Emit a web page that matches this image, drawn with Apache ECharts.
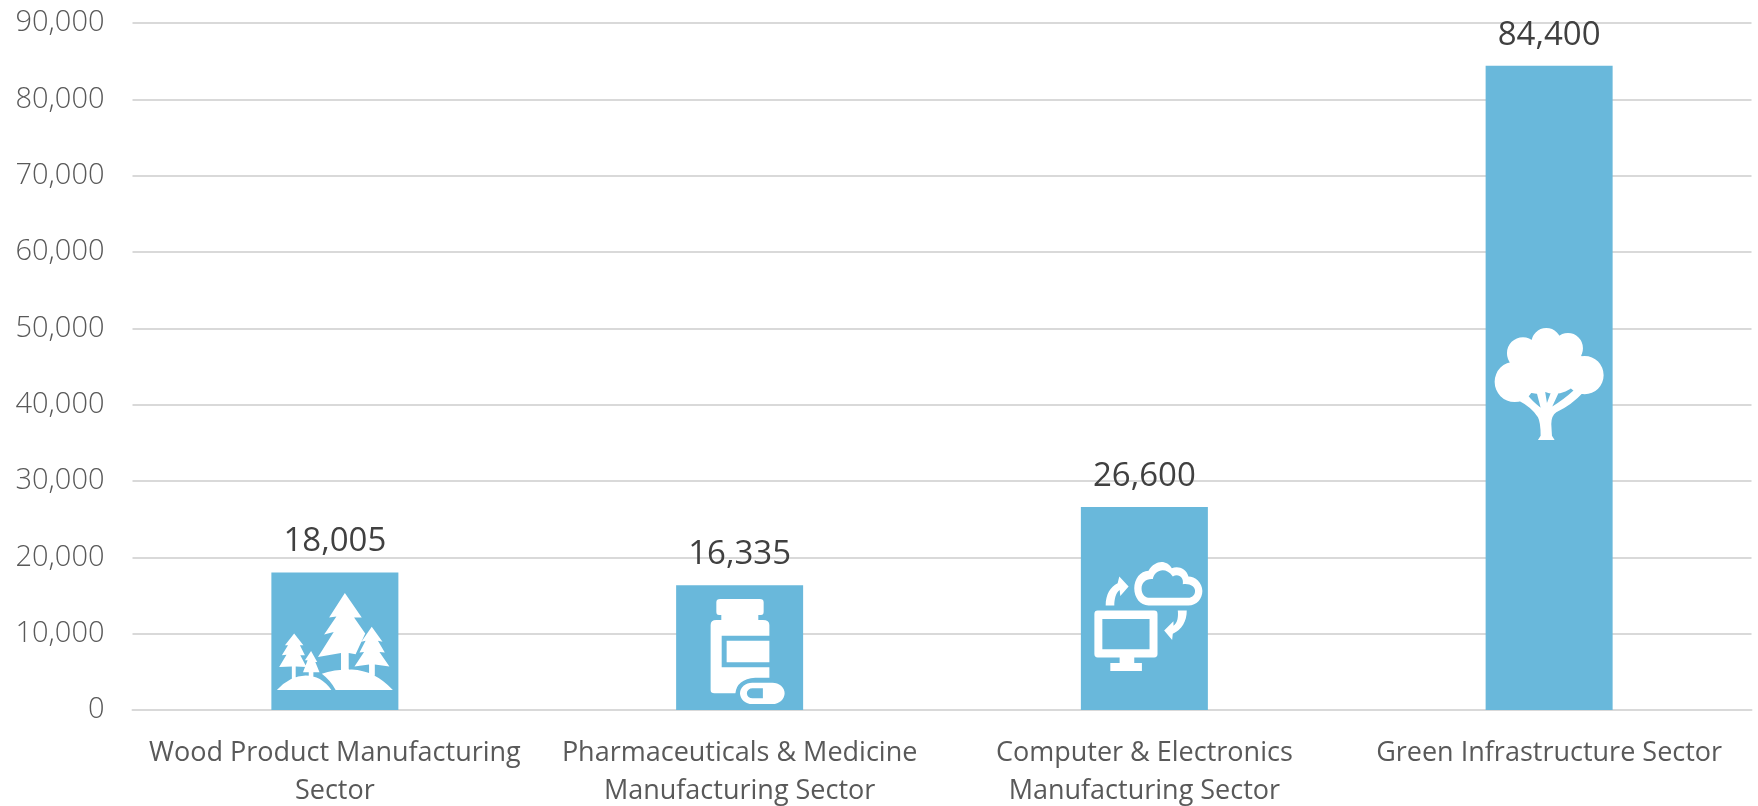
<!DOCTYPE html>
<html><head><meta charset="utf-8">
<style>html,body{margin:0;padding:0;background:#fff}#c{width:1758px;height:806px}</style>
<script src="https://cdn.jsdelivr.net/npm/echarts@6/dist/echarts.min.js"></script>
</head><body><div id="c"></div>
<script>
const categories = ['Wood Product Manufacturing\nSector','Pharmaceuticals & Medicine\nManufacturing Sector','Computer & Electronics\nManufacturing Sector','Green Infrastructure Sector'];
const values = [18005,16335,26600,84400];
const tickMax = 90000;
const tickStep = 10000;
const iconLevels = [8974,7660,12250,42700];
const iconSizes = [[116,97],[74,105],[108,109],[109,112]];
const iconOffsets = [[0,0],[8,0],[4,0],[0,0]];
function circle(cx,cy,r){return `M${cx-r} ${cy}A${r} ${r} 0 1 0 ${cx+r} ${cy}A${r} ${r} 0 1 0 ${cx-r} ${cy}Z`;}
const forestPath = 'path://M272 220L231 293L250 290L218 343L243 336L202 410L262 398L262 450L282 450L282 398L300 402L325 340L304 337L325 340L296 293L316 293Z'
 +'M342 320L315 365L326 362L310 397L322 395L297 438L335 432L335 465L350 465L350 432L388 438L362 395L376 397L358 362L370 365Z'
 +'M140 340L116 375L124 375L108 405L120 403L101 440L134 438L134 475L144 475L144 438L172 440L156 405L168 405L155 375L164 375Z'
 +'M184 392L168 420L175 420L163 455L178 455L178 470L190 470L190 455L206 455L195 425L200 425Z'
 +'M95 508L237 508Q210 465 170 465Q130 465 95 508Z'
 +'M248 508L397 508Q350 450 290 447Q240 447 212 460Q235 480 248 508Z';
const bottlePath = 'path://M1228 510Q1228 520 1238 520L1293 520Q1296 478 1345 473L1382 473L1382 442L1257 442L1257 347L1382 347L1382 315Q1382 300 1365 300L1353 300L1353 285L1360 285Q1367 285 1367 275L1367 247Q1367 237 1357 237L1253 237Q1243 237 1243 247L1243 275Q1243 285 1250 285L1256 285L1256 300L1243 300Q1228 300 1228 315Z'
 +'M1270 362L1270 427L1382 427L1382 362Z'
 +'M1337 488L1390 488A32 32 0 0 1 1390 552L1337 552A32 32 0 0 1 1337 488Z'
 +'M1365 505L1338 505A15 15 0 0 0 1338 535L1365 535Z';
const computerPath = 'path://M172 213L342 213Q352 213 352 223L352 342Q352 352 342 352L282 352L282 368L305 368L305 392L210 392L210 368L238 368L238 352L172 352Q162 352 162 342L162 223Q162 213 172 213Z'
 +'M186 238L186 328L328 328L328 238Z'
 +'M325 198L445 198C470 198 487 178 487 155C487 130 465 112 445 112C438 85 410 80 395 88C380 62 345 62 325 95C300 95 282 120 282 147C282 175 300 198 325 198Z'
 +'M325 175C312 175 304 162 304 148C304 130 318 118 338 120C342 95 375 80 398 112C415 102 432 115 428 135C450 132 465 142 465 155C465 168 455 175 445 175Z'
 +'M196 198C196 165 210 143 232 132L237 112L265 142L240 170L238 152C226 160 222 180 222 198Z'
 +'M413 213L440 213C440 245 425 270 398 282L396 300L372 272L400 245L400 258C413 250 415 230 413 213Z';
const treePath = 'path://'+circle(165,245,60)+circle(190,160,48)+circle(260,130,45)+circle(325,145,45)+circle(375,225,57)+circle(285,195,85)+circle(230,210,70)
 +'M235 418L285 418L277 405L275 370Q275 345 290 335Q335 315 372 275L345 268Q310 300 278 318L305 260L280 260L262 308L255 265L228 265L243 322Q215 300 205 285L175 300Q215 320 235 350Q243 365 243 405Z';
const iconPaths = [forestPath,bottlePath,computerPath,treePath];

const chart = echarts.init(document.getElementById('c'),null,{renderer:'canvas'});
const font = '"Open Sans"';
chart.setOption({
  animation:false,
  backgroundColor:'#fff',
  grid:{left:132.5,right:6.5,top:23,bottom:96,outerBoundsMode:'none'},
  xAxis:{type:'category',data:categories,
    axisLine:{show:true,lineStyle:{color:'#D9D9D9',width:2}},axisTick:{show:false},
    axisLabel:{interval:0,color:'#595959',fontFamily:font,fontSize:27,lineHeight:38,margin:24}},
  yAxis:{type:'value',min:0,max:tickMax,interval:tickStep,
    axisLine:{show:false},axisTick:{show:false},
    splitLine:{lineStyle:{color:'#D9D9D9',width:2}},
    axisLabel:{color:'#595959',fontFamily:font,fontWeight:300,fontSize:29,margin:28,
      formatter:v=>v.toLocaleString('en-US')}},
  series:[
    {type:'bar',data:values,barWidth:127,itemStyle:{color:'#69B8DB'},
     label:{show:true,position:'top',distance:14,color:'#404040',fontFamily:font,fontSize:33,
       formatter:p=>p.value.toLocaleString('en-US')}},
    {type:'scatter',silent:true,z:5,
     data:iconLevels.map((v,i)=>({value:[i,v],symbol:iconPaths[i],symbolSize:iconSizes[i],symbolOffset:iconOffsets[i]})),
     itemStyle:{color:'#fff',opacity:1}}
  ]
});
</script></body></html>
